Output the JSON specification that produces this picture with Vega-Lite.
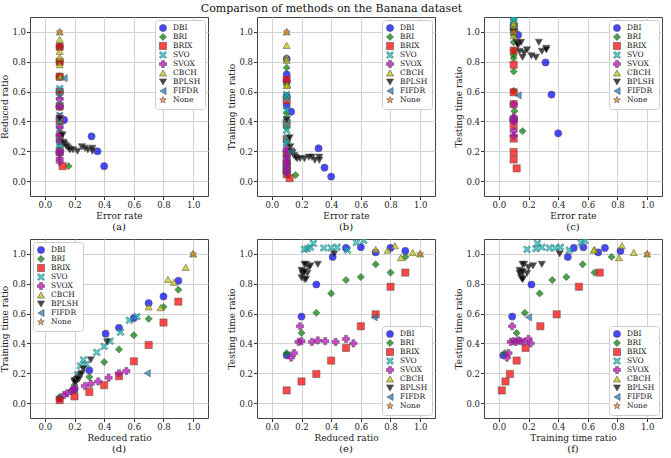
{
  "$schema": "https://vega.github.io/schema/vega-lite/v6.json",
  "title": {"text": "Comparison of methods on the Banana dataset", "font": "DejaVu Serif", "fontSize": 11, "fontWeight": "normal", "anchor": "middle", "offset": 3, "color": "#111"},
  "padding": {"left": 0, "top": 2, "right": 2, "bottom": 0},
  "background": "white",
  "config": {
    "view": {"stroke": "#444", "strokeWidth": 1},
    "axis": {"grid": true, "gridColor": "#d3d3d3", "gridWidth": 1, "domain": false, "tickColor": "#333", "tickSize": 3.5, "labelFont": "DejaVu Serif", "labelFontSize": 8.5, "labelColor": "#222", "titleFont": "DejaVu Serif", "titleFontSize": 9, "titleFontWeight": "normal", "titleColor": "#222", "labelPadding": 1, "titlePadding": 2},
    "legend": {"fillColor": "white", "strokeColor": "#cccccc", "padding": 4, "cornerRadius": 3, "labelFont": "DejaVu Serif", "labelFontSize": 7.5, "labelColor": "#222", "symbolSize": 50, "rowPadding": -1.5, "offset": 3, "symbolOpacity": 1, "symbolStrokeColor": "#444", "symbolStrokeWidth": 0.5, "title": null, "labelOffset": 6},
    "title": {"font": "DejaVu Serif", "fontSize": 10, "fontWeight": "normal", "color": "#111"},
    "point": {"filled": true, "size": 52, "fillOpacity": 0.72, "stroke": "#555", "strokeWidth": 0.6, "strokeOpacity": 0.9}
  },
  "data": {"values": [
    {"m": "DBI", "err": 0.40, "red": 0.10, "trn": 0.03, "tst": 0.32},
    {"m": "DBI", "err": 0.355, "red": 0.20, "trn": 0.09, "tst": 0.58},
    {"m": "DBI", "err": 0.315, "red": 0.30, "trn": 0.22, "tst": 0.795},
    {"m": "DBI", "err": 0.13, "red": 0.41, "trn": 0.465, "tst": 0.98},
    {"m": "DBI", "err": 0.10, "red": 0.50, "trn": 0.505, "tst": 1.04},
    {"m": "DBI", "err": 0.10, "red": 0.60, "trn": 0.57, "tst": 1.045},
    {"m": "DBI", "err": 0.10, "red": 0.70, "trn": 0.67, "tst": 1.01},
    {"m": "DBI", "err": 0.10, "red": 0.80, "trn": 0.715, "tst": 1.04},
    {"m": "DBI", "err": 0.10, "red": 0.90, "trn": 0.82, "tst": 1.02},
    {"m": "BRI", "err": 0.16, "red": 0.10, "trn": 0.04, "tst": 0.335},
    {"m": "BRI", "err": 0.105, "red": 0.20, "trn": 0.12, "tst": 0.47},
    {"m": "BRI", "err": 0.10, "red": 0.30, "trn": 0.175, "tst": 0.605},
    {"m": "BRI", "err": 0.10, "red": 0.40, "trn": 0.275, "tst": 0.735},
    {"m": "BRI", "err": 0.10, "red": 0.50, "trn": 0.36, "tst": 0.825},
    {"m": "BRI", "err": 0.10, "red": 0.60, "trn": 0.455, "tst": 0.845},
    {"m": "BRI", "err": 0.10, "red": 0.70, "trn": 0.565, "tst": 0.93},
    {"m": "BRI", "err": 0.10, "red": 0.80, "trn": 0.645, "tst": 0.875},
    {"m": "BRI", "err": 0.10, "red": 0.90, "trn": 0.76, "tst": 0.98},
    {"m": "BRIX", "err": 0.12, "red": 0.10, "trn": 0.02, "tst": 0.085},
    {"m": "BRIX", "err": 0.10, "red": 0.20, "trn": 0.045, "tst": 0.145},
    {"m": "BRIX", "err": 0.10, "red": 0.30, "trn": 0.075, "tst": 0.195},
    {"m": "BRIX", "err": 0.10, "red": 0.40, "trn": 0.12, "tst": 0.285},
    {"m": "BRIX", "err": 0.10, "red": 0.50, "trn": 0.18, "tst": 0.37},
    {"m": "BRIX", "err": 0.10, "red": 0.60, "trn": 0.28, "tst": 0.515},
    {"m": "BRIX", "err": 0.10, "red": 0.70, "trn": 0.39, "tst": 0.595},
    {"m": "BRIX", "err": 0.10, "red": 0.80, "trn": 0.54, "tst": 0.78},
    {"m": "BRIX", "err": 0.10, "red": 0.90, "trn": 0.68, "tst": 0.875},
    {"m": "SVO", "err": 0.105, "red": 0.22, "trn": 0.19, "tst": 1.03},
    {"m": "SVO", "err": 0.10, "red": 0.24, "trn": 0.25, "tst": 1.035},
    {"m": "SVO", "err": 0.10, "red": 0.26, "trn": 0.29, "tst": 1.045},
    {"m": "SVO", "err": 0.10, "red": 0.28, "trn": 0.26, "tst": 1.07},
    {"m": "SVO", "err": 0.10, "red": 0.35, "trn": 0.34, "tst": 1.04},
    {"m": "SVO", "err": 0.10, "red": 0.40, "trn": 0.38, "tst": 1.04},
    {"m": "SVO", "err": 0.10, "red": 0.44, "trn": 0.415, "tst": 1.045},
    {"m": "SVO", "err": 0.10, "red": 0.51, "trn": 0.475, "tst": 1.025},
    {"m": "SVO", "err": 0.10, "red": 0.57, "trn": 0.555, "tst": 1.075},
    {"m": "SVO", "err": 0.10, "red": 0.62, "trn": 0.58, "tst": 1.09},
    {"m": "SVOX", "err": 0.10, "red": 0.13, "trn": 0.055, "tst": 0.305},
    {"m": "SVOX", "err": 0.10, "red": 0.15, "trn": 0.065, "tst": 0.335},
    {"m": "SVOX", "err": 0.10, "red": 0.18, "trn": 0.08, "tst": 0.41},
    {"m": "SVOX", "err": 0.10, "red": 0.19, "trn": 0.09, "tst": 0.515},
    {"m": "SVOX", "err": 0.10, "red": 0.20, "trn": 0.10, "tst": 0.415},
    {"m": "SVOX", "err": 0.10, "red": 0.27, "trn": 0.115, "tst": 0.41},
    {"m": "SVOX", "err": 0.10, "red": 0.31, "trn": 0.13, "tst": 0.42},
    {"m": "SVOX", "err": 0.10, "red": 0.36, "trn": 0.145, "tst": 0.415},
    {"m": "SVOX", "err": 0.10, "red": 0.43, "trn": 0.17, "tst": 0.41},
    {"m": "SVOX", "err": 0.10, "red": 0.50, "trn": 0.20, "tst": 0.43},
    {"m": "SVOX", "err": 0.10, "red": 0.55, "trn": 0.215, "tst": 0.40},
    {"m": "CBCH", "err": 0.105, "red": 0.70, "trn": 0.645, "tst": 1.03},
    {"m": "CBCH", "err": 0.10, "red": 0.78, "trn": 0.64, "tst": 1.025},
    {"m": "CBCH", "err": 0.10, "red": 0.83, "trn": 0.83, "tst": 1.055},
    {"m": "CBCH", "err": 0.10, "red": 0.87, "trn": 0.81, "tst": 0.975},
    {"m": "CBCH", "err": 0.10, "red": 0.95, "trn": 0.91, "tst": 1.01},
    {"m": "CBCH", "err": 0.10, "red": 1.00, "trn": 1.00, "tst": 1.00},
    {"m": "BPLSH", "err": 0.10, "red": 0.42, "trn": 0.41, "tst": 1.00},
    {"m": "BPLSH", "err": 0.12, "red": 0.31, "trn": 0.29, "tst": 0.93},
    {"m": "BPLSH", "err": 0.125, "red": 0.26, "trn": 0.23, "tst": 0.92},
    {"m": "BPLSH", "err": 0.13, "red": 0.25, "trn": 0.20, "tst": 0.91},
    {"m": "BPLSH", "err": 0.14, "red": 0.24, "trn": 0.19, "tst": 0.87},
    {"m": "BPLSH", "err": 0.15, "red": 0.23, "trn": 0.17, "tst": 0.93},
    {"m": "BPLSH", "err": 0.16, "red": 0.22, "trn": 0.16, "tst": 0.83},
    {"m": "BPLSH", "err": 0.17, "red": 0.21, "trn": 0.15, "tst": 0.86},
    {"m": "BPLSH", "err": 0.19, "red": 0.21, "trn": 0.15, "tst": 0.88},
    {"m": "BPLSH", "err": 0.22, "red": 0.20, "trn": 0.15, "tst": 0.84},
    {"m": "BPLSH", "err": 0.25, "red": 0.23, "trn": 0.16, "tst": 0.83},
    {"m": "BPLSH", "err": 0.27, "red": 0.22, "trn": 0.16, "tst": 0.93},
    {"m": "BPLSH", "err": 0.29, "red": 0.21, "trn": 0.14, "tst": 0.87},
    {"m": "BPLSH", "err": 0.32, "red": 0.20, "trn": 0.14, "tst": 0.89},
    {"m": "BPLSH", "err": 0.32, "red": 0.22, "trn": 0.16, "tst": 0.88},
    {"m": "FIFDR", "err": 0.13, "red": 0.69, "trn": 0.20, "tst": 0.575},
    {"m": "None", "err": 0.10, "red": 1.00, "trn": 1.00, "tst": 1.00}
  ]},
  "resolve": {"scale": {"color": "independent", "shape": "independent"}, "legend": {"color": "independent", "shape": "independent"}},
  "columns": 3,
  "spacing": {"column": 18, "row": 5},
  "concat": [
    {
      "width": 178, "height": 179,
      "title": {"text": "(a)", "orient": "bottom", "offset": 2},
      "mark": {"type": "point"},
      "encoding": {
        "x": {"field": "err", "type": "quantitative", "scale": {"domain": [-0.1, 1.1], "nice": false, "zero": false}, "axis": {"title": "Error rate", "values": [0, 0.2, 0.4, 0.6, 0.8, 1.0], "format": ".1f"}},
        "y": {"field": "red", "type": "quantitative", "scale": {"domain": [-0.1, 1.1], "nice": false, "zero": false}, "axis": {"title": "Reduced ratio", "values": [0, 0.2, 0.4, 0.6, 0.8, 1.0], "format": ".1f"}},
        "color": {"field": "m", "type": "nominal", "sort": null, "scale": {"domain": ["DBI", "BRI", "BRIX", "SVO", "SVOX", "CBCH", "BPLSH", "FIFDR", "None"], "range": ["#0000ff", "#008000", "#ff0000", "#00bfbf", "#bf00bf", "#bfbf00", "#000000", "#1f77b4", "#ff7f0e"]}, "legend": {"orient": "top-right"}},
        "shape": {"field": "m", "type": "nominal", "sort": null, "scale": {"domain": ["DBI", "BRI", "BRIX", "SVO", "SVOX", "CBCH", "BPLSH", "FIFDR", "None"], "range": ["circle", "diamond", "square", "M-0.6,-1L0,-0.4L0.6,-1L1,-0.6L0.4,0L1,0.6L0.6,1L0,0.4L-0.6,1L-1,0.6L-0.4,0L-1,-0.6Z", "cross", "triangle-up", "triangle-down", "triangle-left", "M0,-1L0.24,-0.33L0.95,-0.31L0.38,0.12L0.59,0.81L0,0.4L-0.59,0.81L-0.38,0.12L-0.95,-0.31L-0.24,-0.33Z"]}, "legend": {"orient": "top-right"}}
      }
    },
    {
      "width": 178, "height": 179,
      "title": {"text": "(b)", "orient": "bottom", "offset": 2},
      "mark": {"type": "point"},
      "encoding": {
        "x": {"field": "err", "type": "quantitative", "scale": {"domain": [-0.1, 1.1], "nice": false, "zero": false}, "axis": {"title": "Error rate", "values": [0, 0.2, 0.4, 0.6, 0.8, 1.0], "format": ".1f"}},
        "y": {"field": "trn", "type": "quantitative", "scale": {"domain": [-0.1, 1.1], "nice": false, "zero": false}, "axis": {"title": "Training time ratio", "values": [0, 0.2, 0.4, 0.6, 0.8, 1.0], "format": ".1f"}},
        "color": {"field": "m", "type": "nominal", "sort": null, "scale": {"domain": ["DBI", "BRI", "BRIX", "SVO", "SVOX", "CBCH", "BPLSH", "FIFDR", "None"], "range": ["#0000ff", "#008000", "#ff0000", "#00bfbf", "#bf00bf", "#bfbf00", "#000000", "#1f77b4", "#ff7f0e"]}, "legend": {"orient": "top-right"}},
        "shape": {"field": "m", "type": "nominal", "sort": null, "scale": {"domain": ["DBI", "BRI", "BRIX", "SVO", "SVOX", "CBCH", "BPLSH", "FIFDR", "None"], "range": ["circle", "diamond", "square", "M-0.6,-1L0,-0.4L0.6,-1L1,-0.6L0.4,0L1,0.6L0.6,1L0,0.4L-0.6,1L-1,0.6L-0.4,0L-1,-0.6Z", "cross", "triangle-up", "triangle-down", "triangle-left", "M0,-1L0.24,-0.33L0.95,-0.31L0.38,0.12L0.59,0.81L0,0.4L-0.59,0.81L-0.38,0.12L-0.95,-0.31L-0.24,-0.33Z"]}, "legend": {"orient": "top-right"}}
      }
    },
    {
      "width": 178, "height": 179,
      "title": {"text": "(c)", "orient": "bottom", "offset": 2},
      "mark": {"type": "point", "clip": true},
      "encoding": {
        "x": {"field": "err", "type": "quantitative", "scale": {"domain": [-0.1, 1.1], "nice": false, "zero": false}, "axis": {"title": "Error rate", "values": [0, 0.2, 0.4, 0.6, 0.8, 1.0], "format": ".1f"}},
        "y": {"field": "tst", "type": "quantitative", "scale": {"domain": [-0.1, 1.1], "nice": false, "zero": false}, "axis": {"title": "Testing time ratio", "values": [0, 0.2, 0.4, 0.6, 0.8, 1.0], "format": ".1f"}},
        "color": {"field": "m", "type": "nominal", "sort": null, "scale": {"domain": ["DBI", "BRI", "BRIX", "SVO", "SVOX", "CBCH", "BPLSH", "FIFDR", "None"], "range": ["#0000ff", "#008000", "#ff0000", "#00bfbf", "#bf00bf", "#bfbf00", "#000000", "#1f77b4", "#ff7f0e"]}, "legend": {"orient": "top-right"}},
        "shape": {"field": "m", "type": "nominal", "sort": null, "scale": {"domain": ["DBI", "BRI", "BRIX", "SVO", "SVOX", "CBCH", "BPLSH", "FIFDR", "None"], "range": ["circle", "diamond", "square", "M-0.6,-1L0,-0.4L0.6,-1L1,-0.6L0.4,0L1,0.6L0.6,1L0,0.4L-0.6,1L-1,0.6L-0.4,0L-1,-0.6Z", "cross", "triangle-up", "triangle-down", "triangle-left", "M0,-1L0.24,-0.33L0.95,-0.31L0.38,0.12L0.59,0.81L0,0.4L-0.59,0.81L-0.38,0.12L-0.95,-0.31L-0.24,-0.33Z"]}, "legend": {"orient": "top-right"}}
      }
    },
    {
      "width": 178, "height": 179,
      "title": {"text": "(d)", "orient": "bottom", "offset": 2},
      "mark": {"type": "point"},
      "encoding": {
        "x": {"field": "red", "type": "quantitative", "scale": {"domain": [-0.1, 1.1], "nice": false, "zero": false}, "axis": {"title": "Reduced ratio", "values": [0, 0.2, 0.4, 0.6, 0.8, 1.0], "format": ".1f"}},
        "y": {"field": "trn", "type": "quantitative", "scale": {"domain": [-0.1, 1.1], "nice": false, "zero": false}, "axis": {"title": "Training time ratio", "values": [0, 0.2, 0.4, 0.6, 0.8, 1.0], "format": ".1f"}},
        "color": {"field": "m", "type": "nominal", "sort": null, "scale": {"domain": ["DBI", "BRI", "BRIX", "SVO", "SVOX", "CBCH", "BPLSH", "FIFDR", "None"], "range": ["#0000ff", "#008000", "#ff0000", "#00bfbf", "#bf00bf", "#bfbf00", "#000000", "#1f77b4", "#ff7f0e"]}, "legend": {"orient": "top-left"}},
        "shape": {"field": "m", "type": "nominal", "sort": null, "scale": {"domain": ["DBI", "BRI", "BRIX", "SVO", "SVOX", "CBCH", "BPLSH", "FIFDR", "None"], "range": ["circle", "diamond", "square", "M-0.6,-1L0,-0.4L0.6,-1L1,-0.6L0.4,0L1,0.6L0.6,1L0,0.4L-0.6,1L-1,0.6L-0.4,0L-1,-0.6Z", "cross", "triangle-up", "triangle-down", "triangle-left", "M0,-1L0.24,-0.33L0.95,-0.31L0.38,0.12L0.59,0.81L0,0.4L-0.59,0.81L-0.38,0.12L-0.95,-0.31L-0.24,-0.33Z"]}, "legend": {"orient": "top-left"}}
      }
    },
    {
      "width": 178, "height": 179,
      "title": {"text": "(e)", "orient": "bottom", "offset": 2},
      "mark": {"type": "point", "clip": true},
      "encoding": {
        "x": {"field": "red", "type": "quantitative", "scale": {"domain": [-0.1, 1.1], "nice": false, "zero": false}, "axis": {"title": "Reduced ratio", "values": [0, 0.2, 0.4, 0.6, 0.8, 1.0], "format": ".1f"}},
        "y": {"field": "tst", "type": "quantitative", "scale": {"domain": [-0.1, 1.1], "nice": false, "zero": false}, "axis": {"title": "Testing time ratio", "values": [0, 0.2, 0.4, 0.6, 0.8, 1.0], "format": ".1f"}},
        "color": {"field": "m", "type": "nominal", "sort": null, "scale": {"domain": ["DBI", "BRI", "BRIX", "SVO", "SVOX", "CBCH", "BPLSH", "FIFDR", "None"], "range": ["#0000ff", "#008000", "#ff0000", "#00bfbf", "#bf00bf", "#bfbf00", "#000000", "#1f77b4", "#ff7f0e"]}, "legend": {"orient": "bottom-right"}},
        "shape": {"field": "m", "type": "nominal", "sort": null, "scale": {"domain": ["DBI", "BRI", "BRIX", "SVO", "SVOX", "CBCH", "BPLSH", "FIFDR", "None"], "range": ["circle", "diamond", "square", "M-0.6,-1L0,-0.4L0.6,-1L1,-0.6L0.4,0L1,0.6L0.6,1L0,0.4L-0.6,1L-1,0.6L-0.4,0L-1,-0.6Z", "cross", "triangle-up", "triangle-down", "triangle-left", "M0,-1L0.24,-0.33L0.95,-0.31L0.38,0.12L0.59,0.81L0,0.4L-0.59,0.81L-0.38,0.12L-0.95,-0.31L-0.24,-0.33Z"]}, "legend": {"orient": "bottom-right"}}
      }
    },
    {
      "width": 178, "height": 179,
      "title": {"text": "(f)", "orient": "bottom", "offset": 2},
      "mark": {"type": "point", "clip": true},
      "encoding": {
        "x": {"field": "trn", "type": "quantitative", "scale": {"domain": [-0.1, 1.1], "nice": false, "zero": false}, "axis": {"title": "Training time ratio", "values": [0, 0.2, 0.4, 0.6, 0.8, 1.0], "format": ".1f"}},
        "y": {"field": "tst", "type": "quantitative", "scale": {"domain": [-0.1, 1.1], "nice": false, "zero": false}, "axis": {"title": "Testing time ratio", "values": [0, 0.2, 0.4, 0.6, 0.8, 1.0], "format": ".1f"}},
        "color": {"field": "m", "type": "nominal", "sort": null, "scale": {"domain": ["DBI", "BRI", "BRIX", "SVO", "SVOX", "CBCH", "BPLSH", "FIFDR", "None"], "range": ["#0000ff", "#008000", "#ff0000", "#00bfbf", "#bf00bf", "#bfbf00", "#000000", "#1f77b4", "#ff7f0e"]}, "legend": {"orient": "bottom-right"}},
        "shape": {"field": "m", "type": "nominal", "sort": null, "scale": {"domain": ["DBI", "BRI", "BRIX", "SVO", "SVOX", "CBCH", "BPLSH", "FIFDR", "None"], "range": ["circle", "diamond", "square", "M-0.6,-1L0,-0.4L0.6,-1L1,-0.6L0.4,0L1,0.6L0.6,1L0,0.4L-0.6,1L-1,0.6L-0.4,0L-1,-0.6Z", "cross", "triangle-up", "triangle-down", "triangle-left", "M0,-1L0.24,-0.33L0.95,-0.31L0.38,0.12L0.59,0.81L0,0.4L-0.59,0.81L-0.38,0.12L-0.95,-0.31L-0.24,-0.33Z"]}, "legend": {"orient": "bottom-right"}}
      }
    }
  ]
}
